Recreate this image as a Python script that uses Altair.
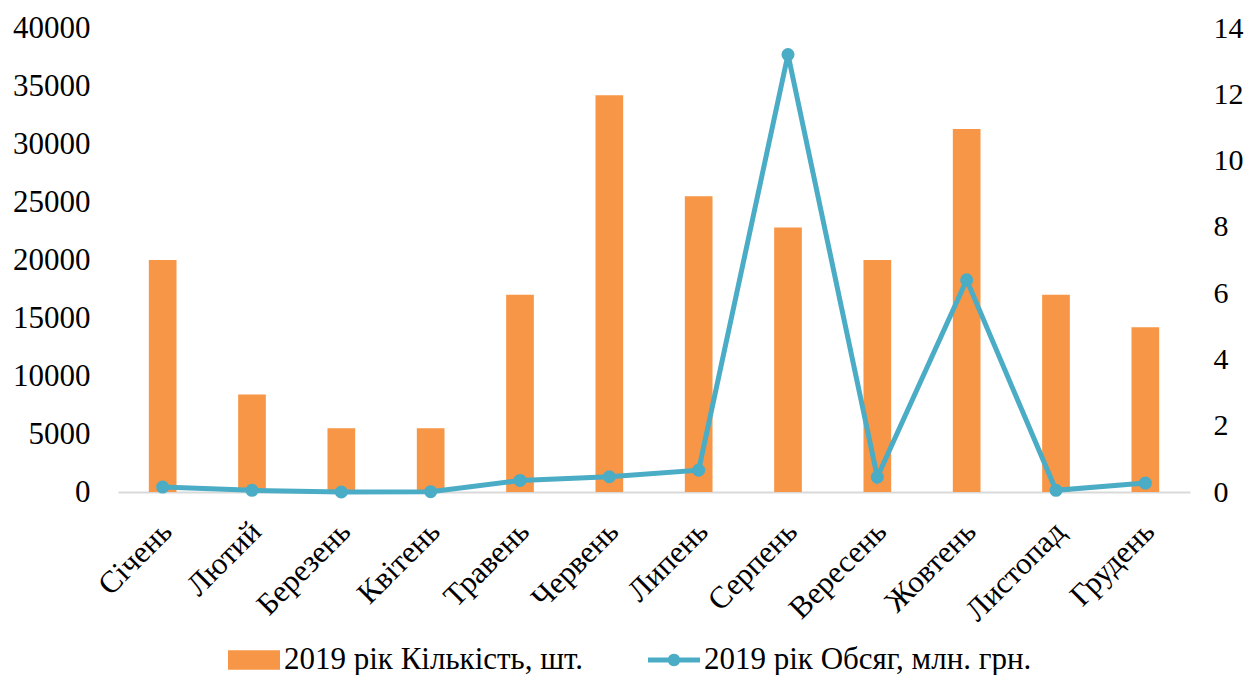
import altair as alt
import pandas as pd

months = ["Січень", "Лютий", "Березень", "Квітень", "Травень", "Червень",
          "Липень", "Серпень", "Вересень", "Жовтень", "Листопад", "Грудень"]
counts = [20000, 8400, 5500, 5500, 17000, 34200, 25500, 22800, 20000, 31300, 17000, 14200]
volumes = [0.15, 0.05, 0.0, 0.01, 0.35, 0.46, 0.66, 13.2, 0.45, 6.4, 0.05, 0.27]
bar_label = "2019 рік Кількість, шт."
line_label = "2019 рік Обсяг, млн. грн."
left_ticks = [0, 5000, 10000, 15000, 20000, 25000, 30000, 35000, 40000]
right_ticks = [0, 2, 4, 6, 8, 10, 12, 14]

ORANGE = "#F79646"
TEAL = "#4BACC6"
FONT = "Liberation Serif"

df = pd.DataFrame({
    "month": months,
    "count": counts,
    "volume": volumes,
    "bar_series": [bar_label] * len(months),
    "line_series": [line_label] * len(months),
})

x_enc = alt.X(
    "month:N", sort=months,
    scale=alt.Scale(paddingInner=0.69, paddingOuter=0.345),
    axis=alt.Axis(title=None, labelAngle=-45, labelAlign="right", labelBaseline="top",
                  labelPadding=24, labelOffset=-6, ticks=False,
                  domainColor="#d9d9d9", domainWidth=2, labelFontSize=31),
)

rect_path = "M-1,-0.375L1,-0.375L1,0.375L-1,0.375Z"
line_path = ("M-1,-0.1L1,-0.1L1,0.1L-1,0.1Z "
             "M0.24,0A0.24,0.24 0 1,1 -0.24,0A0.24,0.24 0 1,1 0.24,0Z")

bars = alt.Chart(df).mark_bar().encode(
    x=x_enc,
    y=alt.Y("count:Q", scale=alt.Scale(domain=[0, 40000], nice=False),
            axis=alt.Axis(values=left_ticks, format="d", title=None, grid=False,
                          domain=False, ticks=False, labelPadding=28, labelFontSize=31)),
    fill=alt.Fill("bar_series:N", scale=alt.Scale(domain=[bar_label], range=[ORANGE]),
                  legend=alt.Legend(title=None, orient="none", legendX=110, legendY=606,
                                    symbolType=rect_path, symbolSize=2704,
                                    symbolStrokeWidth=0, labelFontSize=31,
                                    labelLimit=600, padding=0)),
)

right_axis = alt.Axis(values=right_ticks, format="d", title=None, grid=False, domain=False,
                      ticks=False, orient="right", labelPadding=23, labelFontSize=30)
right_scale = alt.Scale(domain=[0, 14], nice=False)

line = alt.Chart(df).mark_line(strokeWidth=5).encode(
    x=x_enc,
    y=alt.Y("volume:Q", scale=right_scale, axis=right_axis),
    stroke=alt.Stroke("line_series:N", scale=alt.Scale(domain=[line_label], range=[TEAL]),
                      legend=alt.Legend(title=None, orient="none", legendX=530, legendY=606,
                                        symbolType=line_path, symbolSize=2704,
                                        symbolFillColor=TEAL, symbolStrokeWidth=0,
                                        labelFontSize=31, labelLimit=600, padding=0)),
)

points = alt.Chart(df).mark_circle(size=170, color=TEAL, opacity=1).encode(
    x=x_enc,
    y=alt.Y("volume:Q", scale=right_scale, axis=right_axis),
)

chart = alt.layer(bars, alt.layer(line, points)).resolve_scale(
    y="independent"
).properties(
    width=1072, height=464,
    autosize=alt.AutoSizeParams(type="none"),
    padding={"left": 110, "top": 20, "right": 54, "bottom": 183},
).configure_view(stroke=None).configure_axis(
    labelFont=FONT, labelColor="#000000"
).configure_legend(
    labelFont=FONT, labelColor="#000000"
)

chart.save("out.html", embed_options={"renderer": "svg", "actions": False})
